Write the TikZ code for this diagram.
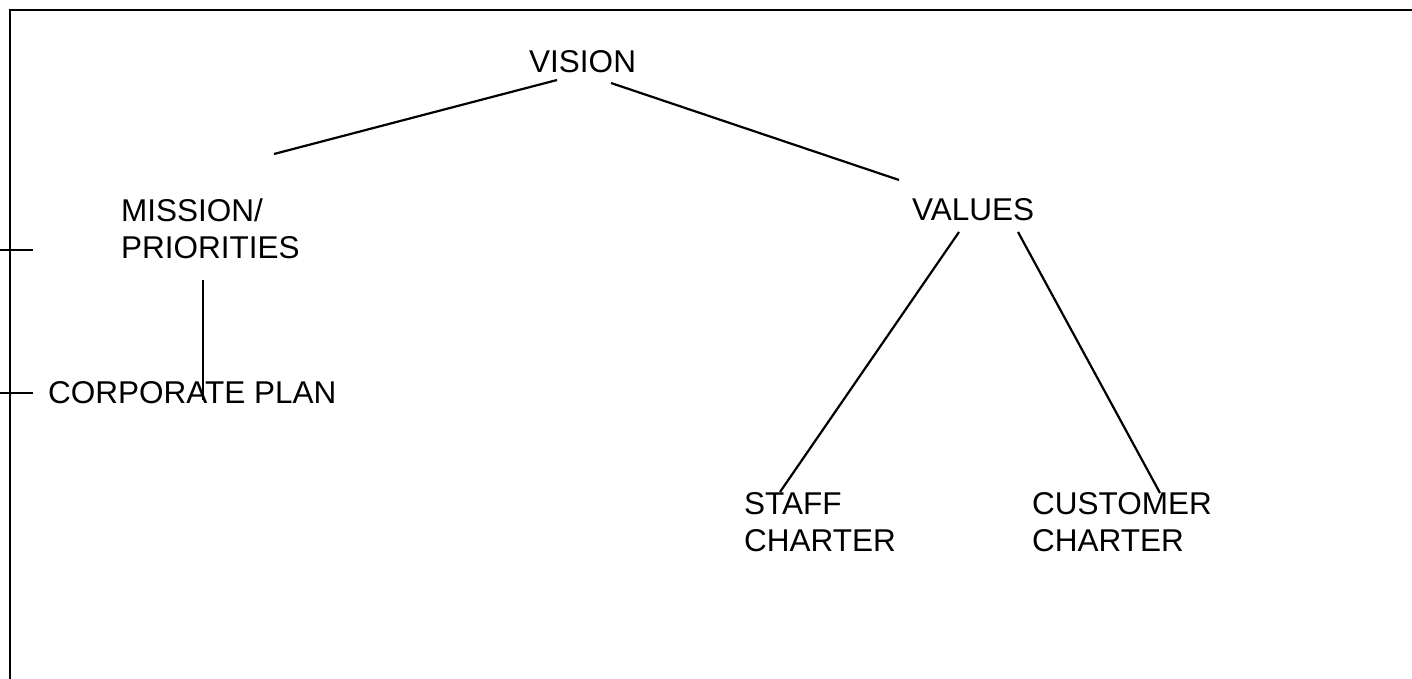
\documentclass[tikz,border=0pt]{standalone}
\usepackage{fontspec}
\setmainfont{Liberation Sans}
\usetikzlibrary{calc}

\tikzset{
  lbl/.style={anchor=base west,inner sep=0pt,align=left,
              font=\fontsize{31.5}{37}\selectfont},
  link/.style={line width=2.2pt}
}

\begin{document}
\begin{tikzpicture}[x=1pt,y=-1pt]
  \useasboundingbox (0,0) rectangle (1412,679);

  % The frame
  \draw [link] (10,679) -- (10,10) -- (1412,10);

  % The labels (two-line ones sit on their last line)
  \node [lbl] (vision)   at (529,73)  {VISION};
  \node [lbl] (mission)  at (121,258) {MISSION/\\PRIORITIES};
  \node [lbl] (corp)     at (48,403)  {CORPORATE PLAN};
  \node [lbl] (values)   at (912,220) {VALUES};
  \node [lbl] (staff)    at (744,551) {STAFF\\CHARTER};
  \node [lbl] (customer) at (1032,551) {CUSTOMER\\CHARTER};

  % Side markers
  \coordinate (tickA) at (0,250);
  \coordinate (tickB) at (0,393);
  \draw [link] (tickA) -- ++(33,0);
  \draw [link] (tickB) -- ++(33,0);

  % Vision to mission and values
  \draw [link] ($(vision.base west)+(28,7)$) -- ($(mission.base west)+(153,-104)$);
  \draw [link] ($(vision.base west)+(82,10)$) -- ($(values.base west)+(-13,-40)$);
  % Mission to corporate plan
  \draw [link] ($(mission.base west)+(82,22)$) -- ($(corp.base west)+(155,-3)$);
  % Values to the charters
  \draw [link] ($(values.base west)+(47,12)$) -- ($(staff.base west)+(36,-59)$);
  \draw [link] ($(values.base west)+(106,12)$) -- ($(customer.base west)+(128,-58)$);
\end{tikzpicture}
\end{document}
